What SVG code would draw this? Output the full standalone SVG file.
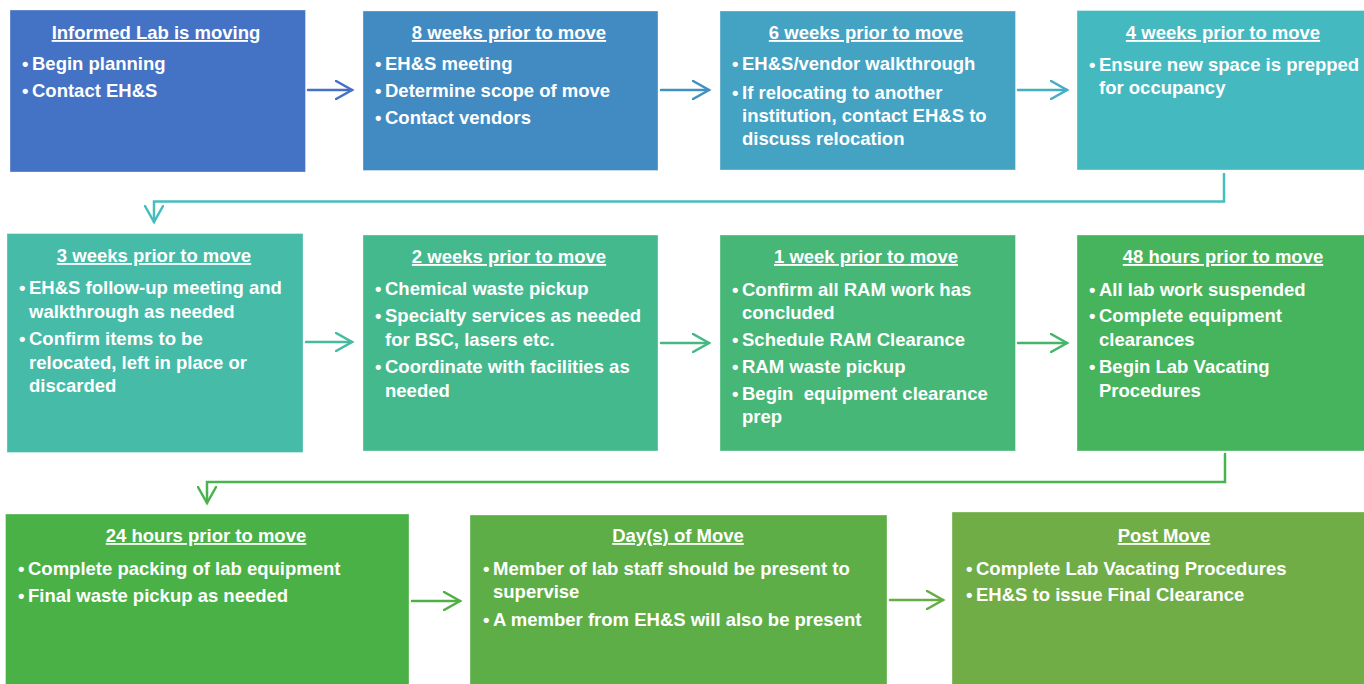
<svg xmlns="http://www.w3.org/2000/svg" width="1364" height="684" viewBox="0 0 1364 684">
<style>
text{font-family:"Liberation Sans",Arial,sans-serif;font-weight:bold;font-size:18.5px;fill:#fff}
.t{text-anchor:middle;text-decoration:underline}
.box{stroke:#fff;stroke-opacity:0.35;stroke-width:1}
.c{fill:none;stroke-width:2.5;stroke-linecap:round;stroke-linejoin:miter}
</style>
<defs>
<marker id="ah" viewBox="0 0 20 20" refX="17" refY="10" markerWidth="20" markerHeight="20" markerUnits="userSpaceOnUse" orient="auto">
<path d="M1 1 L17 10 L1 19" fill="none" stroke="context-stroke" stroke-width="2.5" stroke-linecap="round"/>
</marker>
</defs>
<g id="connectors">
<path class="c" d="M308 90H352" stroke="#4472C4" marker-end="url(#ah)"/>
<path class="c" d="M661 90H709" stroke="#4290C2" marker-end="url(#ah)"/>
<path class="c" d="M1018 90H1067" stroke="#45AEC2" marker-end="url(#ah)"/>
<path class="c" d="M1224 174V201.5H154V222" stroke="#45BEBD" marker-end="url(#ah)"/>
<path class="c" d="M306 342H352" stroke="#45BBA0" marker-end="url(#ah)"/>
<path class="c" d="M661 343H709" stroke="#45B884" marker-end="url(#ah)"/>
<path class="c" d="M1018 343H1067" stroke="#46B56A" marker-end="url(#ah)"/>
<path class="c" d="M1225 454V482H207V503" stroke="#48B34F" marker-end="url(#ah)"/>
<path class="c" d="M412 601H460" stroke="#52AF47" marker-end="url(#ah)"/>
<path class="c" d="M890 600H943" stroke="#66AD46" marker-end="url(#ah)"/>
</g>
<g id="n1">
<rect class="box" x="10" y="10" width="295.5" height="162" fill="#4472C4"/>
<text class="t" x="156" y="39">Informed Lab is moving</text>
<text><tspan x="22" y="70">•</tspan><tspan x="32" y="70">Begin planning</tspan><tspan x="22" y="97">•</tspan><tspan x="32" y="97">Contact EH&amp;S</tspan></text>
</g>
<g id="n2">
<rect class="box" x="363" y="11" width="295" height="159.5" fill="#428BC2"/>
<text class="t" x="509" y="39">8 weeks prior to move</text>
<text><tspan x="375" y="70">•</tspan><tspan x="385" y="70">EH&amp;S meeting</tspan><tspan x="375" y="97">•</tspan><tspan x="385" y="97">Determine scope of move</tspan><tspan x="375" y="124">•</tspan><tspan x="385" y="124">Contact vendors</tspan></text>
</g>
<g id="n3">
<rect class="box" x="720" y="11" width="295.5" height="159" fill="#44A2C3"/>
<text class="t" x="866" y="39">6 weeks prior to move</text>
<text><tspan x="732" y="70">•</tspan><tspan x="742" y="70">EH&amp;S/vendor walkthrough</tspan><tspan x="732" y="99">•</tspan><tspan x="742" y="99">If relocating to another</tspan><tspan x="742" y="122">institution, contact EH&amp;S to</tspan><tspan x="742" y="145">discuss relocation</tspan></text>
</g>
<g id="n4">
<rect class="box" x="1077" y="10.5" width="295" height="159.5" fill="#45B9C0"/>
<text class="t" x="1223" y="39">4 weeks prior to move</text>
<text><tspan x="1089" y="71">•</tspan><tspan x="1099" y="71">Ensure new space is prepped</tspan><tspan x="1099" y="94">for occupancy</tspan></text>
</g>
<g id="n5">
<rect class="box" x="7" y="233.5" width="296" height="219" fill="#45BBA8"/>
<text class="t" x="154" y="262">3 weeks prior to move</text>
<text><tspan x="19" y="294">•</tspan><tspan x="29" y="294">EH&amp;S follow-up meeting and</tspan><tspan x="29" y="318">walkthrough as needed</tspan><tspan x="19" y="345">•</tspan><tspan x="29" y="345">Confirm items to be</tspan><tspan x="29" y="369">relocated, left in place or</tspan><tspan x="29" y="392">discarded</tspan></text>
</g>
<g id="n6">
<rect class="box" x="363" y="235" width="295" height="216" fill="#45B98E"/>
<text class="t" x="509" y="263">2 weeks prior to move</text>
<text><tspan x="375" y="295">•</tspan><tspan x="385" y="295">Chemical waste pickup</tspan><tspan x="375" y="322">•</tspan><tspan x="385" y="322">Specialty services as needed</tspan><tspan x="385" y="346">for BSC, lasers etc.</tspan><tspan x="375" y="373">•</tspan><tspan x="385" y="373">Coordinate with facilities as</tspan><tspan x="385" y="397">needed</tspan></text>
</g>
<g id="n7">
<rect class="box" x="720" y="235" width="295.5" height="216" fill="#46B777"/>
<text class="t" x="866" y="263">1 week prior to move</text>
<text xml:space="preserve"><tspan x="732" y="296">•</tspan><tspan x="742" y="296">Confirm all RAM work has</tspan><tspan x="742" y="319">concluded</tspan><tspan x="732" y="346">•</tspan><tspan x="742" y="346">Schedule RAM Clearance</tspan><tspan x="732" y="373">•</tspan><tspan x="742" y="373">RAM waste pickup</tspan><tspan x="732" y="400">•</tspan><tspan x="742" y="400">Begin  equipment clearance</tspan><tspan x="742" y="423">prep</tspan></text>
</g>
<g id="n8">
<rect class="box" x="1077" y="235" width="295" height="216" fill="#46B45D"/>
<text class="t" x="1223" y="263">48 hours prior to move</text>
<text><tspan x="1089" y="296">•</tspan><tspan x="1099" y="296">All lab work suspended</tspan><tspan x="1089" y="322">•</tspan><tspan x="1099" y="322">Complete equipment</tspan><tspan x="1099" y="346">clearances</tspan><tspan x="1089" y="373">•</tspan><tspan x="1099" y="373">Begin Lab Vacating</tspan><tspan x="1099" y="397">Procedures</tspan></text>
</g>
<g id="n9">
<rect class="box" x="5.5" y="514" width="403.5" height="175" fill="#4AB146"/>
<text class="t" x="206" y="542">24 hours prior to move</text>
<text><tspan x="18" y="575">•</tspan><tspan x="28" y="575">Complete packing of lab equipment</tspan><tspan x="18" y="602">•</tspan><tspan x="28" y="602">Final waste pickup as needed</tspan></text>
</g>
<g id="n10">
<rect class="box" x="470" y="515" width="417" height="174" fill="#5DAE47"/>
<text class="t" x="678" y="542">Day(s) of Move</text>
<text><tspan x="483" y="575">•</tspan><tspan x="493" y="575">Member of lab staff should be present to</tspan><tspan x="493" y="598">supervise</tspan><tspan x="483" y="626">•</tspan><tspan x="493" y="626">A member from EH&amp;S will also be present</tspan></text>
</g>
<g id="n11">
<rect class="box" x="952" y="512" width="424" height="177" fill="#70AD47"/>
<text class="t" x="1164" y="542">Post Move</text>
<text><tspan x="966" y="575">•</tspan><tspan x="976" y="575">Complete Lab Vacating Procedures</tspan><tspan x="966" y="601">•</tspan><tspan x="976" y="601">EH&amp;S to issue Final Clearance</tspan></text>
</g>
</svg>
